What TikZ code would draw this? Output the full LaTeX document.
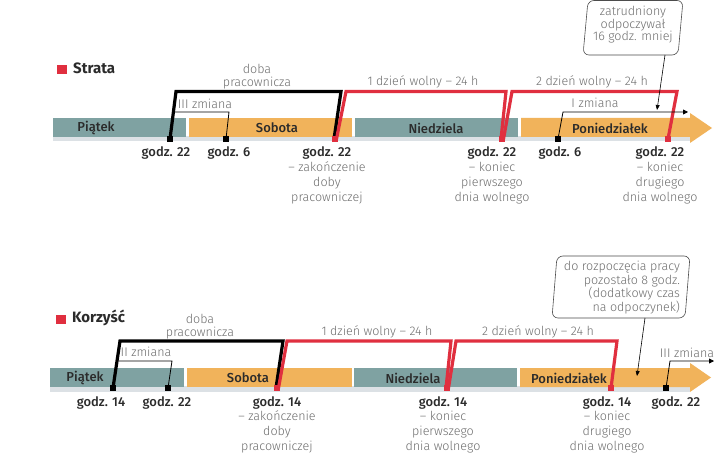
\documentclass[tikz,border=0pt]{standalone}
\usepackage{fontspec}
\setmainfont{Fira Sans}
\IfFontExistsTF{Fira Sans Light}{\newfontfamily\lightf{Fira Sans Light}}{\newcommand\lightf{\normalfont}}
\IfFontExistsTF{Fira Sans Medium}{\newfontfamily\medf{Fira Sans Medium}}{\newcommand\medf{\normalfont}}
\newcommand\boldf{\bfseries}
\usetikzlibrary{arrows.meta}
\definecolor{tealb}{HTML}{7FA2A2}
\definecolor{orab}{HTML}{F1B35B}
\definecolor{redc}{HTML}{E02F3F}
\definecolor{txtg}{HTML}{6E6E6E}
\definecolor{dark}{HTML}{2B2B2B}
\definecolor{shad}{HTML}{DCE1E5}
\begin{document}
\begin{tikzpicture}[x=1pt,y=-1pt,
  gt/.style={font=\lightf\fontsize{12.5}{15}\selectfont, text=txtg, align=center, inner sep=0pt},
  ct/.style={font=\lightf\fontsize{12.5}{12.5}\selectfont, text=txtg, inner sep=0pt},
  gd/.style={font=\medf\fontsize{13}{15}\selectfont, text=dark, inner sep=0pt},
  bl/.style={font=\medf\fontsize{13}{15}\selectfont, text=dark, inner sep=0pt},
  ttl/.style={font=\boldf\fontsize{15}{18}\selectfont, text=dark, inner sep=0pt, anchor=west},
  mk/.style={minimum size=6.5pt, inner sep=0pt, fill=black, draw=none},
  mkr/.style={mk, fill=redc},
  sq/.style={minimum size=9.5pt, inner sep=0pt, fill=redc, draw=none},
  brk/.style={line width=3.2pt, line join=miter},
  thn/.style={line width=0.8pt, draw=black},
  tipa/.style={-{Triangle[length=5pt,width=5pt]}},
  call/.style={draw=black!70, line width=0.6pt, rounded corners=6pt}]
\useasboundingbox (0,0) rectangle (720,454);
\fill[white] (0,0) rectangle (720,454);

% ================= TOP: Strata =================
\node[sq] (sqA) at (62,69.5) {};
\node[ttl] (tA) at (73,68) {Strata};

% bar
\fill[shad] (53,136) rectangle (690,141.5);
\fill[tealb] (53,118) rectangle (186,137);
\fill[orab] (189,118) rectangle (352,137);
\fill[tealb] (355,118) rectangle (518,137);
\fill[orab] (521,118) -- (690,118) -- (690,113) -- (712,128) -- (690,143) -- (690,137) -- (521,137) -- cycle;
\node[bl] (dA1) at (96,128) {Piątek};
\node[bl] (dA2) at (277,128) {Sobota};
\node[bl] (dA3) at (436,128) {Niedziela};
\node[bl] (dA4) at (610,128) {Poniedziałek};

% markers (coordinates)
\coordinate (m1) at (170,139);
\coordinate (m2) at (226,139);
\coordinate (m3) at (335,139);
\coordinate (m4) at (502,139);
\coordinate (m5) at (558,139);
\coordinate (m6) at (668,139);

% bracket corners
\coordinate (a1) at (176,91.5);
\coordinate (a2) at (341,91.5);
\coordinate (a3) at (346,91.5);
\coordinate (a4) at (506,91.5);
\coordinate (a5) at (512,91.5);
\coordinate (a6) at (677,91.5);

\draw[brk, black] (m1) -- (a1) -- (a2) -- ([xshift=-1pt]m3);
\draw[brk, redc] ([xshift=1.5pt]m3) -- (a3) -- (a4) -- ([xshift=-1pt]m4);
\draw[brk, redc] ([xshift=1.5pt]m4) -- (a5) -- (a6) -- (m6);

% thin shift brackets
\coordinate (s1) at (175,112);
\coordinate (s2) at (229,112);
\draw[thn] (s1) -- (s2) -- (m2);
\coordinate (s3) at (563,112);
\coordinate (s4) at (688,112);
\draw[thn, tipa] (m5) -- (s3) -- (s4);

\node[mk] (M1) at (m1) {};
\node[mk] (M2) at (m2) {};
\node[mkr] (M3) at (m3) {};
\node[mkr] (M4) at (m4) {};
\node[mk] (M5) at (m5) {};
\node[mkr] (M6) at (m6) {};

% labels above
\node[gt] (lA1) at (257,76.5) {doba\\[-2pt]pracownicza};
\node[gt] (lA2) at (423,82) {1 dzień wolny – 24 h};
\node[gt] (lA3) at (592,82) {2 dzień wolny – 24 h};
\node[gt] (lA4) at (205,104) {III zmiana};
\node[gt] (lA5) at (595,103) {I zmiana};

% labels below
\node[gd] (gA1) at (166,153) {godz. 22};
\node[gd] (gA2) at (229,153) {godz. 6};
\node[gd] (gA3) at (327,153) {godz. 22};
\node[gt] (xA3) at (327,183) {– zakończenie\\doby\\pracowniczej};
\node[gd] (gA4) at (492,153) {godz. 22};
\node[gt] (xA4) at (492,183) {– koniec\\pierwszego\\dnia wolnego};
\node[gd] (gA5) at (560,153) {godz. 6};
\node[gd] (gA6) at (660,153) {godz. 22};
\node[gt] (xA6) at (660,183) {– koniec\\drugiego\\dnia wolnego};

% callout
\draw[call, fill=white] (588,0.5) -- (683,0.5) -- (678,55) -- (583,55) -- cycle;
\node[ct, align=center] (cA) at (633,25) {zatrudniony\\odpoczywał\\16 godz. mniej};
\coordinate (cAp) at (665,55);
\coordinate (cAt) at (657,110);
\draw[thn, line width=0.6pt, -{Triangle[length=5pt,width=4pt]}] (cAp) -- (cAt);

% ================= BOTTOM: Korzyść =================
\node[sq] (sqB) at (61,319.5) {};
\node[ttl] (tB) at (72,318) {Korzyść};

\fill[shad] (50,386) rectangle (690,391.5);
\fill[tealb] (50,368) rectangle (184,387);
\fill[orab] (187,368) rectangle (352,387);
\fill[tealb] (354,368) rectangle (517,387);
\fill[orab] (520,368) -- (690,368) -- (690,363) -- (711,377.5) -- (690,392) -- (690,387) -- (520,387) -- cycle;
\node[bl] (dB1) at (85,378) {Piątek};
\node[bl] (dB2) at (248,378) {Sobota};
\node[bl] (dB3) at (413,378) {Niedziela};
\node[bl] (dB4) at (569,378) {Poniedziałek};

\coordinate (n1) at (113,388);
\coordinate (n2) at (168,388);
\coordinate (n3) at (277,388);
\coordinate (n4) at (447,388);
\coordinate (n5) at (611,388);
\coordinate (n6) at (666,388);

\coordinate (b1) at (120,341);
\coordinate (b2) at (283,341);
\coordinate (b3) at (287,341);
\coordinate (b4) at (451,341);
\coordinate (b5) at (456,341);
\coordinate (b6) at (617,341);

\draw[brk, black] (n1) -- (b1) -- (b2) -- ([xshift=-1pt]n3);
\draw[brk, redc] ([xshift=1.5pt]n3) -- (b3) -- (b4) -- ([xshift=-1pt]n4);
\draw[brk, redc] ([xshift=1.5pt]n4) -- (b5) -- (b6) -- (n5);

\coordinate (t1) at (119,361);
\coordinate (t2) at (172,361);
\draw[thn] (t1) -- (t2) -- (n2);
\coordinate (t3) at (670,361);
\coordinate (t4) at (714,361);
\draw[thn, tipa] (n6) -- (t3) -- (t4);

\node[mk] (N1) at (n1) {};
\node[mk] (N2) at (n2) {};
\node[mkr] (N3) at (n3) {};
\node[mkr] (N4) at (n4) {};
\node[mkr] (N5) at (n5) {};
\node[mk] (N6) at (n6) {};

\node[gt] (lB1) at (200,327) {doba\\[-2pt]pracownicza};
\node[gt] (lB2) at (377,332) {1 dzień wolny – 24 h};
\node[gt] (lB3) at (538,332) {2 dzień wolny – 24 h};
\node[gt] (lB4) at (146,352) {II zmiana};
\node[gt] (lB5) at (687,353) {III zmiana};

\node[gd] (gB1) at (101,403) {godz. 14};
\node[gd] (gB2) at (167,403) {godz. 22};
\node[gd] (gB3) at (277,403) {godz. 14};
\node[gt, font=\lightf\fontsize{12.5}{15}\selectfont] (xB3) at (277,432) {– zakończenie\\doby\\pracowniczej};
\node[gd] (gB4) at (443,403) {godz. 14};
\node[gt, font=\lightf\fontsize{12.5}{15}\selectfont] (xB4) at (443,432) {– koniec\\pierwszego\\dnia wolnego};
\node[gd] (gB5) at (607,403) {godz. 14};
\node[gt, font=\lightf\fontsize{12.5}{15}\selectfont] (xB5) at (607,432) {– koniec\\drugiego\\dnia wolnego};
\node[gd] (gB6) at (676,403) {godz. 22};

\draw[call, fill=white] (557,256) -- (690,256) -- (685,318) -- (552,318) -- cycle;
\node[ct, align=right, font=\lightf\fontsize{12.5}{13.7}\selectfont] (cB) at (622,287.5) {do rozpoczęcia pracy\\pozostało 8 godz.\\(dodatkowy czas\\na odpoczynek)};
\coordinate (cBp) at (645,318);
\coordinate (cBt) at (637,376);
\draw[thn, line width=0.6pt, -{Triangle[length=5pt,width=4pt]}] (cBp) -- (cBt);
\end{tikzpicture}
\end{document}
